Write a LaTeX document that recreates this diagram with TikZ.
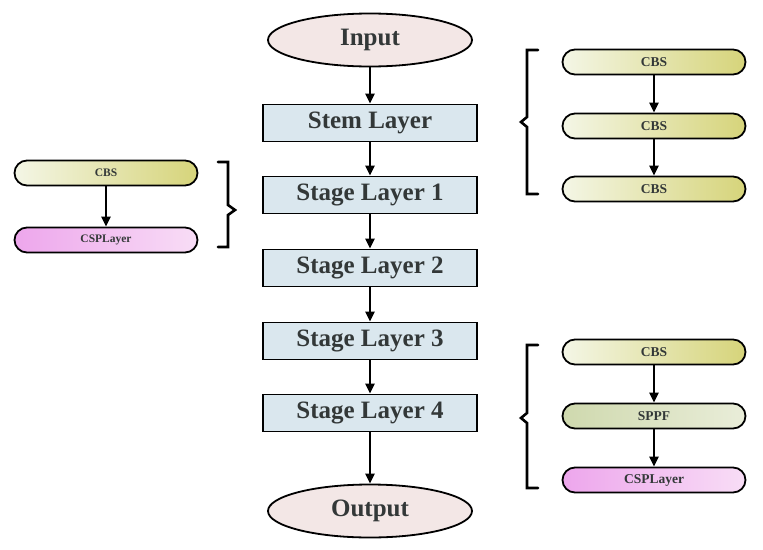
\documentclass[tikz,border=0pt]{standalone}
\usepackage{fontspec}
\setmainfont{Liberation Serif}
\usetikzlibrary{shapes.geometric,arrows.meta}
\definecolor{txt}{HTML}{333838}
\definecolor{ellfill}{HTML}{F3E7E6}
\definecolor{boxfill}{HTML}{DAE7EE}
\definecolor{cbsL}{HTML}{F4F6E6}
\definecolor{cbsR}{HTML}{D6D47A}
\definecolor{cspL}{HTML}{EDA6EC}
\definecolor{cspR}{HTML}{F8DDF6}
\definecolor{sppL}{HTML}{CFD9AE}
\definecolor{sppR}{HTML}{E9EDD9}
\tikzset{
  endpt/.style={ellipse, draw=black, line width=1.8pt, fill=ellfill, minimum width=204pt, minimum height=53pt, inner sep=0pt, font=\fontsize{25}{27}\selectfont\bfseries, text=txt},
  layerbox/.style={rectangle, draw=black, line width=1.8pt, fill=boxfill, minimum width=214pt, minimum height=37pt, inner sep=0pt, font=\fontsize{25}{27}\selectfont\bfseries, text=txt},
  pill/.style={rectangle, rounded corners=12.5pt, draw=black, line width=1.8pt, minimum width=183pt, minimum height=25pt, inner sep=0pt, font=\fontsize{13.5}{15}\selectfont\bfseries, text=txt},
  smallpill/.style={font=\fontsize{11.5}{13}\selectfont\bfseries},
  cbs/.style={pill, left color=cbsL, right color=cbsR},
  csp/.style={pill, left color=cspL, right color=cspR},
  sppf/.style={pill, left color=sppL, right color=sppR},
  flow/.style={line width=2.4pt, -{Triangle[length=10pt,width=9pt]}},
  brk/.style={line width=2.6pt, line join=miter, line cap=round}
}
\begin{document}
\begin{tikzpicture}[x=1pt,y=-1pt]
\useasboundingbox (0,0) rectangle (763,549);
% main column
\node[endpt] (in) at (370,40) {Input};
\node[layerbox] (stem) at (370,123) {Stem Layer};
\node[layerbox] (s1) at (370,195) {Stage Layer 1};
\node[layerbox] (s2) at (370,268) {Stage Layer 2};
\node[layerbox] (s3) at (370,341) {Stage Layer 3};
\node[layerbox] (s4) at (370,413) {Stage Layer 4};
\node[endpt] (out) at (370,511) {Output};
\draw[flow] (in) -- (stem);
\draw[flow] (stem) -- (s1);
\draw[flow] (s1) -- (s2);
\draw[flow] (s2) -- (s3);
\draw[flow] (s3) -- (s4);
\draw[flow] (s4) -- (out);
% left group
\node[cbs,smallpill] (lc) at (106,173) {CBS};
\node[csp,smallpill] (lp) at (106,240) {CSPLayer};
\draw[flow] (lc) -- (lp);
\draw[brk] (218,162) -- (228,162) -- (228,205) -- (235,210) -- (228,215) -- (228,247) -- (218,247);
% right top group
\node[cbs] (r1) at (654,62) {CBS};
\node[cbs] (r2) at (654,126) {CBS};
\node[cbs] (r3) at (654,189) {CBS};
\draw[flow] (r1) -- (r2);
\draw[flow] (r2) -- (r3);
\draw[brk] (538,50) -- (527,50) -- (527,117) -- (521,122) -- (527,127) -- (527,194) -- (538,194);
% right bottom group
\node[cbs] (b1) at (654,352) {CBS};
\node[sppf] (b2) at (654,416) {SPPF};
\node[csp] (b3) at (654,480) {CSPLayer};
\draw[flow] (b1) -- (b2);
\draw[flow] (b2) -- (b3);
\draw[brk] (538,345) -- (527,345) -- (527,413) -- (521,418) -- (527,423) -- (527,488) -- (538,488);
\end{tikzpicture}
\end{document}
